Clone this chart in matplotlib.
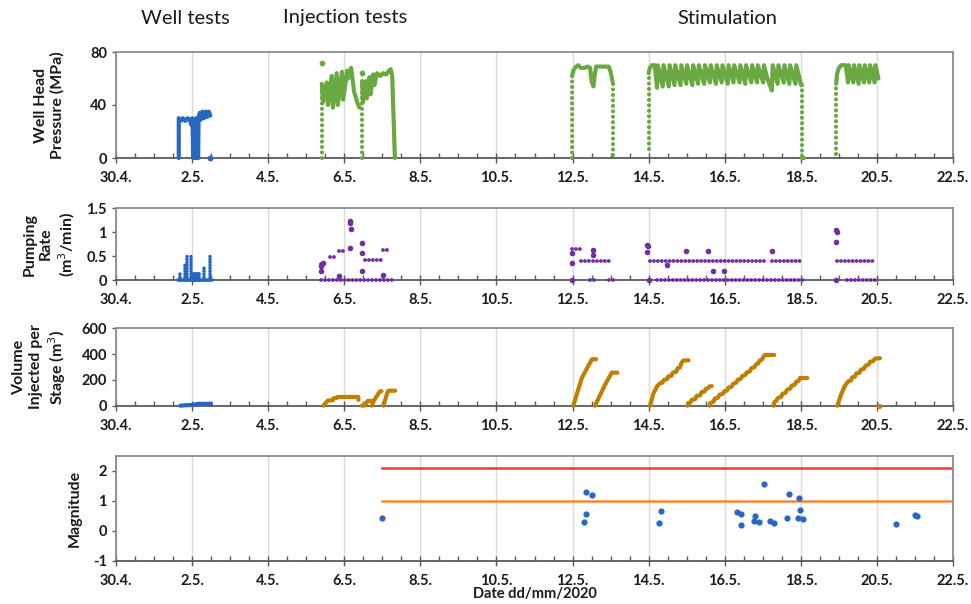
import matplotlib
matplotlib.use("Agg")
import matplotlib.pyplot as plt
from matplotlib.ticker import MultipleLocator, FixedLocator

plt.rcParams['font.family'] = ['Lato', 'DejaVu Sans']

# ---------------------------------------------------------------- data
# time axis: days since 30 April 2020
tick_days = [0, 2, 4, 6, 8, 10, 12, 14, 16, 18, 20, 22]
tick_labels = ["30.4.", "2.5.", "4.5.", "6.5.", "8.5.", "10.5.", "12.5.",
               "14.5.", "16.5.", "18.5.", "20.5.", "22.5."]

phase_names = ["Well tests", "Injection tests", "Stimulation"]

# --- well head pressure (MPa)
wt_day = [1.65, 1.65, 1.70, 1.76, 1.82, 1.88, 1.94, 1.98, 2.01, 2.03, 2.06, 2.08,
          2.11, 2.13, 2.16, 2.17, 2.20, 2.23, 2.27, 2.31, 2.36, 2.40, 2.44, 2.48]
wt_mpa = [0, 30, 28, 30, 28, 30, 29, 25, 30, 0, 28, 0,
          30, 0, 0, 30, 34, 29, 35, 30, 35, 31, 35, 32]
wt_dot_day = [2.46]
wt_dot_mpa = [0]

inj_a_day = [5.41, 5.44, 5.54, 5.57, 5.67, 5.70, 5.80, 5.83, 5.94, 5.97, 6.08,
             6.10, 6.18, 6.26, 6.34, 6.40]
inj_a_mpa = [56, 42, 57, 40, 62, 38, 64, 40, 65, 44, 66, 60, 68, 50, 42, 38]
inj_b_day = [6.47, 6.49, 6.56, 6.59, 6.66, 6.69, 6.76, 6.79, 6.86, 6.95, 7.02,
             7.10, 7.18, 7.22, 7.26, 7.33]
inj_b_mpa = [58, 42, 58, 45, 61, 48, 63, 55, 64, 62, 64, 63, 66, 67, 62, 0]
inj_dot_day = [5.41, 6.47]
inj_dot_mpa = [71.5, 64]

st1_day = [11.99, 12.02, 12.08, 12.15, 12.22, 12.32, 12.40, 12.46, 12.50, 12.55,
           12.58, 12.62, 12.80, 12.95, 13.00, 13.05]
st1_mpa = [62, 66, 68.5, 70, 68, 68, 69, 68, 58, 54, 62, 69, 69, 69, 65, 58]

st2_day = [14.00, 14.03, 14.08, 14.16,
           14.22, 14.24, 14.37, 14.39, 14.53, 14.55, 14.68, 14.70, 14.84, 14.86,
           14.99, 15.01, 15.15, 15.17, 15.30, 15.32, 15.46, 15.48, 15.61, 15.63,
           15.77, 15.79, 15.92, 15.94, 16.08, 16.10, 16.23, 16.25, 16.39, 16.41,
           16.54, 16.56, 16.70, 16.72, 16.85, 16.87, 17.01, 17.03,
           17.12, 17.20, 17.24, 17.26, 17.39, 17.41, 17.55, 17.57, 17.70, 17.72,
           17.86, 17.88, 18.01]
st2_mpa = [64, 68, 70, 70,
           53, 70, 54, 70, 54, 70, 55, 70, 55, 70,
           56, 70, 55, 70, 56, 70, 56, 70, 57, 70,
           56, 70, 57, 70, 56, 70, 57, 70, 57, 70,
           56, 70, 57, 70, 57, 70, 57, 70,
           60, 54, 51, 70, 56, 70, 57, 70, 56, 70,
           56, 70, 55]

st3_day = [18.93, 18.95, 19.00, 19.06, 19.18, 19.24, 19.26, 19.38, 19.40, 19.52,
           19.54, 19.66, 19.68, 19.80, 19.82, 19.94, 19.96, 20.04]
st3_mpa = [56, 63, 68, 70, 70, 57, 70, 57, 70, 56, 70, 57, 70, 57, 70, 57, 70, 60]

# pressure build-up / bleed-off legs (day, from MPa, to MPa)
press_legs_inj = [(5.41, 0, 56), (6.47, 0, 58)]
press_legs_stim = [(11.99, 0, 62), (13.07, 56, 0), (14.00, 7, 64),
                   (18.02, 55, 0), (18.93, 3, 56)]
stim_zero_day = [18.02, 18.09]
stim_zero_mpa = [0, 0]

# --- pumping rate (m3/min)
wt_rate_day = [1.67, 1.82, 1.86, 1.97, 2.03, 2.08, 2.13, 2.18, 2.32, 2.48]
wt_rate = [0.13, 0.33, 0.50, 0.52, 0.13, 0.13, 0.13, 0.13, 0.27, 0.50]
wt_rate_flat = [(1.64, 2.53, 0.0), (2.06, 2.18, 0.13)]

rate_rows = [(5.38, 7.34, 0.0), (6.55, 6.99, 0.42), (7.03, 7.20, 0.63),
             (5.40, 5.48, 0.33), (5.63, 5.72, 0.49), (5.85, 5.98, 0.61),
             (11.98, 12.20, 0.64), (12.22, 12.50, 0.41), (12.55, 13.05, 0.41),
             (12.47, 12.60, 0.0), (12.95, 13.14, 0.0),
             (14.04, 17.02, 0.41), (14.22, 18.11, 0.0), (17.24, 17.98, 0.41),
             (18.95, 19.95, 0.41), (19.21, 20.00, 0.0)]
rate_pts_day = [5.38, 5.40, 5.45, 5.87, 6.15, 6.16, 6.17, 6.15, 6.46, 6.46, 6.46,
                7.03, 11.98, 11.98, 11.98, 12.55, 12.55, 13.95, 13.98, 13.97,
                14.00, 14.48, 14.98, 15.57, 15.70, 15.99, 17.25, 18.93, 18.94,
                18.93, 18.93]
rate_pts = [0.19, 0.30, 0.35, 0.09, 1.22, 1.18, 1.06, 0.66, 0.78, 0.57, 0.19,
            0.11, 0.56, 0.35, 0.0, 0.62, 0.52, 0.73, 0.72, 0.59,
            0.0, 0.31, 0.60, 0.60, 0.19, 0.20, 0.60, 1.05, 1.01,
            0.80, 0.0]

# --- volume injected per stage (m3)
wt_vol_day = [1.69, 1.80, 2.00, 2.05, 2.15, 2.50]
wt_vol = [0, 3, 6, 8, 14, 15]

inj_vol = [
    ([5.45, 5.57, 5.70, 5.72, 5.80, 5.82, 6.37, 6.37], [0, 40, 42, 58, 60, 68, 68, 45]),
    ([6.46, 6.55, 6.60, 6.62, 6.72], [0, 2, 30, 37, 37]),
    ([6.72, 6.80, 6.94, 6.98], [0, 50, 112, 112]),
    ([7.03, 7.12, 7.16, 7.34], [0, 90, 116, 116]),
]
stim_vol = [
    ([12.02, 12.24, 12.38, 12.51, 12.62], [0, 212, 290, 360, 360]),
    ([12.59, 12.85, 13.03, 13.18], [0, 160, 256, 256]),
    ([14.04, 14.12, 14.22, 14.30, 14.36, 14.40, 14.48, 14.52, 14.60, 14.64,
      14.72, 14.76, 14.82, 14.86, 14.91, 15.05],
     [0, 90, 150, 175, 178, 200, 205, 228, 232, 258, 262, 290, 295, 330, 350, 352]),
    ([15.02, 15.04, 15.10, 15.13, 15.22, 15.26, 15.35, 15.39, 15.47, 15.50,
      15.56, 15.60, 15.66],
     [0, 20, 25, 45, 50, 75, 80, 105, 110, 130, 135, 150, 152]),
    ([15.60, 15.62, 15.70, 15.74, 15.82, 15.86, 15.95, 15.99, 16.06, 16.10,
      16.18, 16.22, 16.30, 16.34, 16.42, 16.46, 16.54, 16.58, 16.66, 16.70,
      16.78, 16.82, 16.88, 16.92, 16.98, 17.03, 17.06, 17.30],
     [0, 20, 30, 55, 62, 85, 92, 112, 118, 140, 147, 170, 178, 200, 208, 230,
      238, 258, 266, 290, 298, 320, 328, 350, 358, 385, 393, 393]),
    ([17.28, 17.30, 17.36, 17.40, 17.48, 17.52, 17.60, 17.64, 17.72, 17.76,
      17.84, 17.88, 17.94, 17.98, 18.17],
     [0, 25, 40, 60, 68, 92, 100, 125, 132, 155, 163, 185, 192, 215, 215]),
    ([18.96, 19.05, 19.15, 19.25, 19.32, 19.35, 19.42, 19.46, 19.54, 19.58,
      19.66, 19.70, 19.78, 19.82, 19.90, 19.95, 20.08],
     [0, 80, 150, 190, 195, 220, 225, 250, 255, 280, 285, 310, 318, 340, 345,
      365, 368]),
]
vol_dot_day = [20.06]
vol_dot = [0]

# --- seismic event magnitudes
ev_day = [6.99, 12.29, 12.35, 12.35, 12.51, 14.27, 14.33, 16.32, 16.44, 16.44,
          16.79, 16.77, 16.90, 17.02, 17.20, 17.30, 17.63, 17.70, 17.93, 17.96,
          17.97, 18.05, 20.50, 20.99, 21.05]
ev_mag = [0.43, 0.31, 1.30, 0.55, 1.19, 0.27, 0.66, 0.63, 0.55, 0.19,
          0.49, 0.32, 0.30, 1.55, 0.33, 0.27, 0.43, 1.22, 0.43, 1.10,
          0.69, 0.39, 0.22, 0.53, 0.51]
thresholds = [(2.1, "#f0393a"), (1.0, "#f4883a")]
threshold_start = 6.99

# ---------------------------------------------------------------- style
BLUE = "#2866c2"
GREEN = "#6aa842"
PURPLE = "#7030a0"
GOLD = "#bf8000"
GRID = "#d9d9d9"

W, H = 971, 604
fig = plt.figure(figsize=(W / 100, H / 100), dpi=100)


def box(top, bottom, left=116, right=953):
    return [left / W, 1 - bottom / H, (right - left) / W, (bottom - top) / H]


def style_axes(ax, ylim, yticks, ylabels):
    ax.set_xlim(0, 22)
    ax.set_ylim(*ylim)
    ax.xaxis.set_major_locator(FixedLocator(tick_days))
    ax.set_xticklabels(tick_labels)
    ax.xaxis.set_minor_locator(MultipleLocator(0.5))
    ax.set_yticks(yticks)
    ax.set_yticklabels(ylabels)
    ax.grid(axis="x", which="major", color=GRID, lw=1)
    ax.set_axisbelow(True)
    ax.tick_params(axis="x", which="major", direction="inout", length=7,
                   width=1, color="#595959", pad=6)
    ax.tick_params(axis="x", which="minor", direction="in", length=3.5,
                   width=1, color="#595959")
    ax.tick_params(axis="y", direction="out", length=3, width=1, color="#595959")
    for lab in ax.get_xticklabels() + ax.get_yticklabels():
        lab.set_fontweight("bold")
        lab.set_fontsize(10.5)
        lab.set_color("#1a1a1a")
    for side in ("top", "right", "left"):
        ax.spines[side].set_color("#8c8c8c")
        ax.spines[side].set_linewidth(1.3)
    ax.spines["bottom"].set_color("#595959")
    ax.spines["bottom"].set_linewidth(1.3)


def trace(ax, x, y, color, lw=3.0):
    ax.plot(x, y, color=color, lw=lw, solid_joinstyle="round",
            solid_capstyle="round", clip_on=False, zorder=3)


def dotted(ax, x, y, color, lw=3.0, gap=1.3):
    ax.plot(x, y, color=color, lw=lw, ls=(0, (0.01, gap)),
            dash_capstyle="round", clip_on=False, zorder=3)


# ---- panel 1: well head pressure
ax1 = fig.add_axes(box(52, 158))
style_axes(ax1, (0, 80), [0, 40, 80], ["0", "40", "80"])
trace(ax1, wt_day, wt_mpa, BLUE)
ax1.scatter(wt_dot_day, wt_dot_mpa, s=10, color=BLUE, clip_on=False, zorder=3)
for d, p0, p1 in press_legs_inj + press_legs_stim:
    dotted(ax1, [d, d], [p0, p1], GREEN)
trace(ax1, inj_a_day, inj_a_mpa, GREEN)
trace(ax1, inj_b_day, inj_b_mpa, GREEN)
ax1.scatter(inj_dot_day, inj_dot_mpa, s=10, color=GREEN, clip_on=False, zorder=3)
trace(ax1, st1_day, st1_mpa, GREEN)
trace(ax1, st2_day, st2_mpa, GREEN)
trace(ax1, st3_day, st3_mpa, GREEN)
trace(ax1, stim_zero_day, stim_zero_mpa, GREEN)

# ---- panel 2: pumping rate
ax2 = fig.add_axes(box(208, 280.3))
style_axes(ax2, (0, 1.5), [0, 0.5, 1, 1.5], ["0", "0.5", "1", "1.5"])
for d, r in zip(wt_rate_day, wt_rate):
    dotted(ax2, [d, d], [0, r], BLUE, lw=2.6, gap=0.8)
for a, b, r in wt_rate_flat:
    trace(ax2, [a, b], [r, r], BLUE, lw=2.6)
for a, b, r in rate_rows:
    dotted(ax2, [a, b], [r, r], PURPLE, lw=2.8, gap=1.0)
ax2.scatter(rate_pts_day, rate_pts, s=9, color=PURPLE, clip_on=False, zorder=3)

# ---- panel 3: volume per stage
ax3 = fig.add_axes(box(328.3, 405.7))
style_axes(ax3, (0, 600), [0, 200, 400, 600], ["0", "200", "400", "600"])
trace(ax3, wt_vol_day, wt_vol, BLUE)
for x, y in inj_vol + stim_vol:
    trace(ax3, x, y, GOLD)
ax3.scatter(vol_dot_day, vol_dot, s=8, color=GOLD, clip_on=False, zorder=3)

# ---- panel 4: magnitudes
ax4 = fig.add_axes(box(455.7, 561))
style_axes(ax4, (-1, 2.5), [-1, 0, 1, 2], ["-1", "0", "1", "2"])
for level, col in thresholds:
    ax4.plot([threshold_start, 22], [level, level], color=col, lw=1.8, zorder=2)
ax4.scatter(ev_day, ev_mag, s=12, color=BLUE, zorder=3)

# ---- labels
ylab = dict(rotation=90, ha="center", va="center", fontweight="bold",
            fontsize=11.5, multialignment="center", color="#1a1a1a")
fig.text(49 / W, 1 - 105 / H, "Well Head\nPressure (MPa)", **ylab)
fig.text(50 / W, 1 - 244 / H, "Pumping\nRate\n(m$^3$/min)", **ylab)
fig.text(40 / W, 1 - 367 / H, "Volume\nInjected per\nStage (m$^3$)", **ylab)
fig.text(75 / W, 1 - 508 / H, "Magnitude", **ylab)
fig.text(535 / W, 1 - 594 / H, "Date dd/mm/2020", ha="center", va="center",
         fontsize=10.5, fontweight="bold", color="#1a1a1a")

for name, xc in zip(phase_names, [185, 345, 727]):
    fig.text(xc / W, 1 - 18 / H, name, ha="center", va="center", fontsize=14.5,
             color="#1a1a1a")

fig.savefig("out.png", dpi=100)
